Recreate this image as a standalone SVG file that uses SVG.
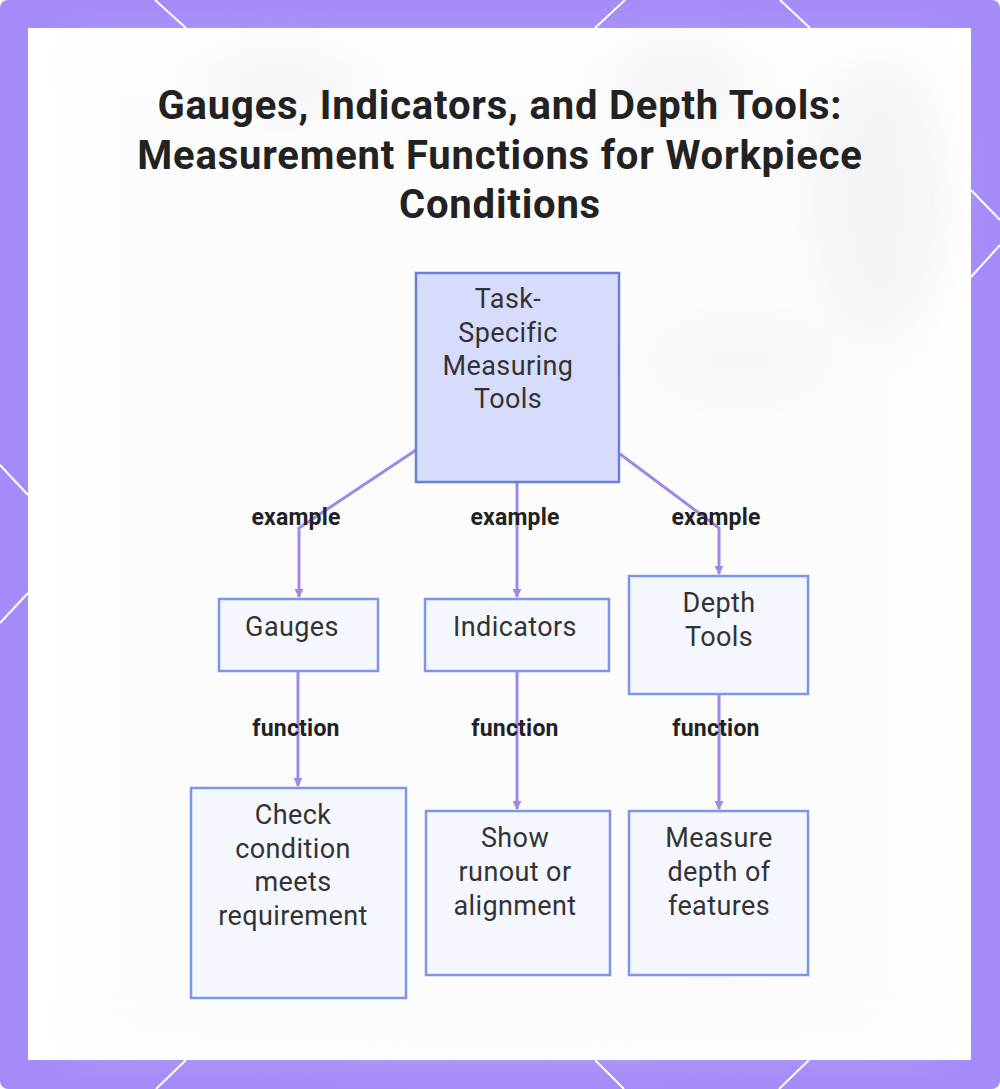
<svg xmlns="http://www.w3.org/2000/svg" width="1000" height="1089" viewBox="0 0 1000 1089">
  <defs>
    <style>
      .title { font-family: Roboto, "Liberation Sans", sans-serif; font-weight: 700; font-size: 40px; letter-spacing: 0.8px; fill: #222222; text-anchor: middle; }
      .ntext { font-family: Roboto, "Liberation Sans", sans-serif; font-size: 27px; letter-spacing: 0.4px; fill: #333333; text-anchor: middle; }
      .elabel { font-family: Roboto, "Liberation Sans", sans-serif; font-weight: 700; font-size: 23px; letter-spacing: 0.2px; fill: #222222; text-anchor: middle; }
      .main { fill: #d8dcfc; stroke: #6a7fd6; stroke-width: 2.5; }
      .leaf { fill: #f5f7fe; stroke: #7d97e6; stroke-width: 2.5; }
      .edge { fill: none; stroke: #a088e6; stroke-width: 3; }
      .deco { stroke: #ffffff; stroke-width: 2; fill: none; }
    </style>
    <marker id="arrow" viewBox="0 0 10 10" refX="9" refY="5" markerWidth="3" markerHeight="3" orient="auto">
      <path d="M0,0 L10,5 L0,10 z" fill="#a088e6"/>
    </marker>
    <filter id="blur" x="-20%" y="-20%" width="140%" height="140%">
      <feGaussianBlur stdDeviation="20"/>
    </filter>
  </defs>

  <!-- frame -->
  <rect x="0" y="0" width="1000" height="1089" rx="8" fill="#a58bf8"/>
  <g class="deco">
    <line x1="155" y1="0" x2="186" y2="28"/>
    <line x1="625" y1="0" x2="595" y2="28"/>
    <line x1="780" y1="0" x2="810" y2="28"/>
    <line x1="186" y1="1060" x2="156" y2="1089"/>
    <line x1="595" y1="1060" x2="624" y2="1089"/>
    <line x1="809" y1="1060" x2="779" y2="1089"/>
    <line x1="0" y1="465" x2="28" y2="495"/>
    <line x1="28" y1="593" x2="0" y2="623"/>
    <line x1="971" y1="190" x2="1000" y2="220"/>
    <line x1="971" y1="277" x2="1000" y2="245"/>
  </g>

  <!-- panel -->
  <rect x="28" y="28" width="943" height="1032" fill="#ffffff"/>
  <g filter="url(#blur)" opacity="0.35">
    <rect x="70" y="45" width="870" height="1000" fill="#f8f8f8"/>
    <ellipse cx="280" cy="80" rx="80" ry="40" fill="#e6e6e6"/>
    <ellipse cx="680" cy="80" rx="70" ry="45" fill="#e4e4e4"/>
    <ellipse cx="880" cy="200" rx="70" ry="140" fill="#e2e2e2"/>
    <ellipse cx="740" cy="360" rx="100" ry="50" fill="#ebebeb"/>
    <ellipse cx="500" cy="1020" rx="380" ry="30" fill="#f2f2f2"/>
  </g>

  <!-- title -->
  <g id="title">
    <text class="title" x="500" y="119">Gauges, Indicators, and Depth Tools:</text>
    <text class="title" x="500" y="169">Measurement Functions for Workpiece</text>
    <text class="title" x="500" y="218">Conditions</text>
  </g>

  <!-- connectors -->
  <g id="connectors">
    <path class="edge" d="M416,450 L299,528 L299,597" marker-end="url(#arrow)"/>
    <path class="edge" d="M517,482 L517,597" marker-end="url(#arrow)"/>
    <path class="edge" d="M620,454 L719,528 L719,574" marker-end="url(#arrow)"/>
    <path class="edge" d="M298,671 L298,786" marker-end="url(#arrow)"/>
    <path class="edge" d="M517,671 L517,809" marker-end="url(#arrow)"/>
    <path class="edge" d="M719,694 L719,809" marker-end="url(#arrow)"/>
    <text class="elabel" x="296" y="525">example</text>
    <text class="elabel" x="515" y="525">example</text>
    <text class="elabel" x="716" y="525">example</text>
    <text class="elabel" x="296" y="736">function</text>
    <text class="elabel" x="515" y="736">function</text>
    <text class="elabel" x="716" y="736">function</text>
  </g>

  <!-- nodes -->
  <g id="node-task">
    <rect class="main" x="416" y="273" width="203" height="209"/>
    <text class="ntext" x="508" y="308">Task-</text>
    <text class="ntext" x="508" y="342">Specific</text>
    <text class="ntext" x="508" y="375">Measuring</text>
    <text class="ntext" x="508" y="408">Tools</text>
  </g>
  <g id="node-gauges">
    <rect class="leaf" x="219" y="599" width="159" height="72"/>
    <text class="ntext" x="292" y="636">Gauges</text>
  </g>
  <g id="node-indicators">
    <rect class="leaf" x="425" y="599" width="184" height="72"/>
    <text class="ntext" x="515" y="636">Indicators</text>
  </g>
  <g id="node-depth">
    <rect class="leaf" x="629" y="576" width="179" height="118"/>
    <text class="ntext" x="719" y="612">Depth</text>
    <text class="ntext" x="719" y="646">Tools</text>
  </g>
  <g id="node-check">
    <rect class="leaf" x="191" y="788" width="215" height="210"/>
    <text class="ntext" x="293" y="824">Check</text>
    <text class="ntext" x="293" y="858">condition</text>
    <text class="ntext" x="293" y="891">meets</text>
    <text class="ntext" x="293" y="925">requirement</text>
  </g>
  <g id="node-show">
    <rect class="leaf" x="426" y="811" width="184" height="164"/>
    <text class="ntext" x="515" y="847">Show</text>
    <text class="ntext" x="515" y="881">runout or</text>
    <text class="ntext" x="515" y="915">alignment</text>
  </g>
  <g id="node-measure">
    <rect class="leaf" x="629" y="811" width="179" height="164"/>
    <text class="ntext" x="719" y="847">Measure</text>
    <text class="ntext" x="719" y="881">depth of</text>
    <text class="ntext" x="719" y="915">features</text>
  </g>
</svg>
